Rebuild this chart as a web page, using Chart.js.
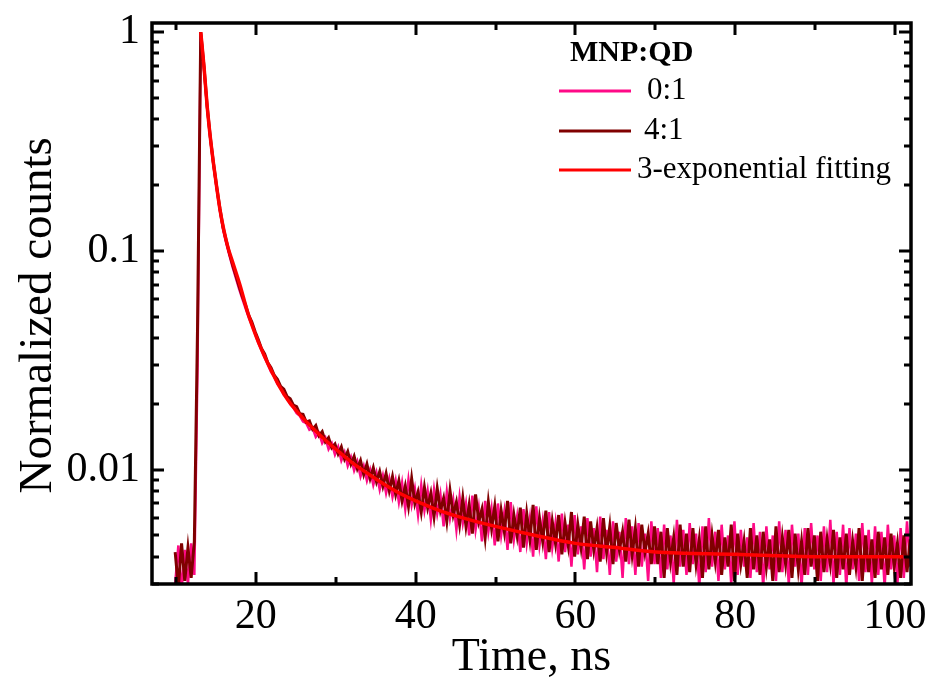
<!DOCTYPE html>
<html><head><meta charset="utf-8">
<script src="https://cdn.jsdelivr.net/npm/chart.js@4.4.1/dist/chart.umd.min.js"></script>
<style>html,body{margin:0;padding:0;background:#fff;}#wrap{width:934px;height:688px;}</style>
</head><body><div id="wrap"><canvas id="c" width="934" height="688"></canvas></div>
<script>
// TCSPC channel timing (ns)
const T_START = 9.9, T_STEP = 0.4;

// MNP:QD = 0:1 normalized counts, one value per channel
const counts01 = [
0.0030,0.0045,0.0028,0.0043,0.0030,0.0046,0.0033,0.030,1.0,0.69,
0.45,0.325,0.245,0.192,0.152,0.125,0.108,0.095,0.084,0.075,
0.067,0.0605,0.0548,0.0497,0.0458,0.0418,0.0380,0.0352,0.0325,0.0302,
0.0280,0.0266,0.0246,0.0236,0.0220,0.0212,0.0199,0.0192,0.0181,0.0176,
0.0166,0.0163,0.0152,0.0155,0.0141,0.0147,0.0132,0.0140,0.0124,0.0132,
0.0117,0.0127,0.0110,0.0120,0.0104,0.0114,0.0099,0.0109,0.0093,0.0104,
0.0089,0.0100,0.0085,0.0097,0.0081,0.0094,0.0078,0.0091,0.0075,0.0089,
0.0071,0.0087,0.0066,0.0090,0.0069,0.0082,0.0062,0.0085,0.0065,0.0080,
0.0059,0.0081,0.0063,0.0077,0.0055,0.0079,0.0060,0.0073,0.0053,0.0075,
0.0057,0.0070,0.0050,0.0076,0.0053,0.0067,0.0047,0.0072,0.0052,0.0066,
0.0045,0.0070,0.0050,0.0064,0.0043,0.0071,0.0048,0.0061,0.0042,0.0066,
0.0046,0.0060,0.0040,0.0068,0.0045,0.0058,0.0039,0.0064,0.0044,0.0057,
0.0038,0.0063,0.0042,0.0056,0.0036,0.0062,0.0041,0.0055,0.0035,0.0060,
0.0040,0.0054,0.0034,0.0061,0.0039,0.0053,0.0033,0.0058,0.0038,0.0052,
0.0032,0.0060,0.0037,0.0055,0.0033,0.0057,0.0036,0.0051,0.0031,0.0058,
0.0037,0.0054,0.0032,0.0056,0.0035,0.0050,0.0030,0.0059,0.0036,0.0053,
0.0033,0.0057,0.0037,0.0051,0.0029,0.0055,0.0034,0.0060,0.0036,0.0052,
0.0031,0.0056,0.0035,0.0050,0.0030,0.0058,0.0033,0.0053,0.0036,0.0049,
0.0032,0.0057,0.0034,0.0052,0.0029,0.0055,0.0035,0.0050,0.0031,0.0058,
0.0034,0.0053,0.0030,0.0056,0.0036,0.0051,0.0029,0.0054,0.0033,0.0057,
0.0035,0.0050,0.0031,0.0055,0.0034,0.0059,0.0030,0.0052,0.0033,0.0056,
0.0029,0.0054,0.0035,0.0051,0.0031,0.0057,0.0034,0.0053,0.0030,0.0055,
0.0033,0.0052,0.0029,0.0056,0.0035,0.0050,0.0030,0.0054,0.0032,0.0058,
0.0036];

// MNP:QD = 4:1 normalized counts
const counts41 = [
0.0042,0.0029,0.0046,0.0031,0.0044,0.0032,0.0047,0.045,1.0,0.70,
0.46,0.33,0.25,0.196,0.156,0.128,0.111,0.097,0.086,0.077,
0.069,0.062,0.0565,0.0508,0.0472,0.0428,0.0393,0.0358,0.0338,0.0308,
0.0292,0.0270,0.0259,0.0240,0.0233,0.0216,0.0211,0.0197,0.0194,0.0180,
0.0179,0.0165,0.0167,0.0153,0.0159,0.0143,0.0149,0.0134,0.0140,0.0126,
0.0131,0.0118,0.0127,0.0112,0.0121,0.0106,0.0115,0.0101,0.0110,0.0095,
0.0106,0.0091,0.0102,0.0088,0.0098,0.0084,0.0096,0.0080,0.0093,0.0077,
0.0089,0.0072,0.0084,0.0068,0.0091,0.0070,0.0079,0.0064,0.0083,0.0067,
0.0078,0.0061,0.0082,0.0065,0.0074,0.0058,0.0080,0.0062,0.0071,0.0056,
0.0074,0.0055,0.0069,0.0051,0.0077,0.0058,0.0066,0.0049,0.0071,0.0054,
0.0068,0.0047,0.0065,0.0052,0.0072,0.0046,0.0062,0.0050,0.0067,0.0044,
0.0063,0.0048,0.0069,0.0043,0.0060,0.0047,0.0065,0.0042,0.0058,0.0046,
0.0062,0.0041,0.0057,0.0045,0.0064,0.0040,0.0056,0.0044,0.0061,0.0039,
0.0058,0.0043,0.0054,0.0038,0.0060,0.0042,0.0055,0.0037,0.0057,0.0043,
0.0052,0.0038,0.0059,0.0041,0.0054,0.0036,0.0056,0.0042,0.0051,0.0037,
0.0055,0.0037,0.0052,0.0032,0.0054,0.0038,0.0049,0.0033,0.0056,0.0036,
0.0051,0.0034,0.0054,0.0037,0.0048,0.0032,0.0055,0.0035,0.0050,0.0038,
0.0053,0.0033,0.0049,0.0036,0.0056,0.0031,0.0051,0.0037,0.0047,0.0032,
0.0054,0.0035,0.0050,0.0033,0.0052,0.0036,0.0048,0.0031,0.0055,0.0034,
0.0049,0.0037,0.0053,0.0032,0.0051,0.0035,0.0047,0.0033,0.0054,0.0036,
0.0050,0.0031,0.0052,0.0034,0.0048,0.0037,0.0053,0.0032,0.0049,0.0035,
0.0051,0.0033,0.0047,0.0036,0.0054,0.0031,0.0050,0.0034,0.0048,0.0032,
0.0052,0.0035,0.0049,0.0033,0.0051,0.0036,0.0046,0.0032,0.0050,0.0034,
0.0048];

// 3-exponential fit curve
const fitTimes  = [13.1,13.5,13.9,14.3,14.7,15.1,15.5,16,16.5,17,18,19,20,21,22,23,24,26,28,30,32,34,36,38,40,43,46,50,55,60,65,70,80,90,101];
const fitValues = [1.0,0.70,0.46,0.33,0.25,0.195,0.155,0.124,0.104,0.091,0.070,0.052,0.041,0.0335,0.0280,0.0238,0.0208,0.0170,0.0144,0.0124,0.0108,0.0096,0.0086,0.0078,0.0072,0.0065,0.0060,0.0055,0.0050,0.0046,0.0044,0.0042,0.0041,0.0040,0.0040];

const seriesLabels = ['0:1', '4:1', '3-exponential fitting'];
const legendTitle = 'MNP:QD';

const xMajorTicks = [20, 40, 60, 80, 100];
const xMinorTicks = [10, 30, 50, 70, 90];
const yMajorTicks = [1, 0.1, 0.01];
const yTickLabels = ['1', '0.1', '0.01'];
const yMinorTicks = [0.9,0.8,0.7,0.6,0.5,0.4,0.3,0.2,0.09,0.08,0.07,0.06,0.05,0.04,0.03,0.02,0.009,0.008,0.007,0.006,0.005,0.004,0.003];

const channelTimes = counts01.map((_, i) => +(T_START + i * T_STEP).toFixed(2));
const toPts = (xs, ys) => ys.map((y, i) => ({x: xs[i], y}));

const SERIF = "'Liberation Serif', 'Times New Roman', serif";

const framePlugin = {
  id: 'frame',
  afterDatasetsDraw(chart) {
    const {ctx, chartArea: a, scales: {x, y}} = chart;
    ctx.save();
    ctx.strokeStyle = '#000';
    ctx.lineWidth = 3;
    ctx.lineCap = 'butt';
    const MAJ = 12, MIN = 7;
    ctx.beginPath();
    const xt = (v, len) => {
      const px = Math.round(x.getPixelForValue(v));
      ctx.moveTo(px, a.bottom); ctx.lineTo(px, a.bottom - len);
      ctx.moveTo(px, a.top); ctx.lineTo(px, a.top + len);
    };
    const yt = (v, len) => {
      const py = Math.round(y.getPixelForValue(v));
      ctx.moveTo(a.left, py); ctx.lineTo(a.left + len, py);
      ctx.moveTo(a.right, py); ctx.lineTo(a.right - len, py);
    };
    xMajorTicks.forEach(v => xt(v, MAJ));
    xMinorTicks.forEach(v => xt(v, MIN));
    yMajorTicks.forEach(v => yt(v, MAJ));
    yMinorTicks.forEach(v => yt(v, MIN));
    ctx.stroke();
    ctx.lineWidth = 3.5;
    ctx.strokeRect(a.left, a.top, a.right - a.left, a.bottom - a.top);
    ctx.restore();
  },
  afterDraw(chart) {
    const {ctx} = chart;
    ctx.save();
    ctx.fillStyle = '#000';
    ctx.textBaseline = 'middle';
    ctx.textAlign = 'left';
    ctx.font = "bold 30px " + SERIF;
    ctx.fillText(legendTitle, 570, 53);
    const rows = [{y: 91, tx: 647}, {y: 131, tx: 644}, {y: 170, tx: 637}];
    ctx.font = "31px " + SERIF;
    chart.data.datasets.forEach((ds, i) => {
      const r = rows[i];
      ctx.strokeStyle = ds.borderColor;
      ctx.lineWidth = 3;
      ctx.beginPath();
      ctx.moveTo(559, r.y); ctx.lineTo(631, r.y);
      ctx.stroke();
      ctx.fillStyle = '#000';
      ctx.fillText(ds.label, r.tx, r.y);
    });
    ctx.restore();
  }
};

new Chart(document.getElementById('c'), {
  type: 'line',
  data: {
    datasets: [
      {label: seriesLabels[0], data: toPts(channelTimes, counts01), borderColor: '#FF0A87', borderWidth: 2.5, pointRadius: 0, order: 2, tension: 0},
      {label: seriesLabels[1], data: toPts(channelTimes, counts41), borderColor: '#800000', borderWidth: 3, pointRadius: 0, order: 1, tension: 0},
      {label: seriesLabels[2], data: toPts(fitTimes, fitValues), borderColor: '#FF0000', borderWidth: 3.5, pointRadius: 0, order: 0, cubicInterpolationMode: 'monotone'}
    ]
  },
  options: {
    responsive: false,
    animation: false,
    devicePixelRatio: 1,
    layout: {padding: {top: 23, right: 23, left: 0, bottom: 0}},
    plugins: {legend: {display: false}, tooltip: {enabled: false}},
    scales: {
      x: {
        type: 'linear', min: 7, max: 102,
        grid: {display: false, drawTicks: false},
        border: {display: false},
        afterBuildTicks: s => { s.ticks = xMajorTicks.map(v => ({value: v})); },
        afterFit: s => { s.height = 104; s.paddingLeft = 0; s.paddingRight = 0; },
        ticks: {color: '#000', font: {family: SERIF, size: 42}, padding: 8, maxRotation: 0},
        title: {display: true, text: 'Time, ns', color: '#000', font: {family: SERIF, size: 46}, padding: {top: 0, bottom: 2}}
      },
      y: {
        type: 'logarithmic', min: 0.003, max: 1.1,
        grid: {display: false, drawTicks: false},
        border: {display: false},
        afterBuildTicks: s => { s.ticks = yMajorTicks.map(v => ({value: v})); },
        afterFit: s => { s.width = 152; s.paddingTop = 0; s.paddingBottom = 0; },
        ticks: {color: '#000', font: {family: SERIF, size: 42}, padding: 12,
          callback: (v) => { const k = yMajorTicks.indexOf(v); return k >= 0 ? yTickLabels[k] : ''; }},
        title: {display: true, text: 'Normalized counts  ', color: '#000', font: {family: SERIF, size: 47}, padding: {top: 10, bottom: 0}}
      }
    }
  },
  plugins: [framePlugin]
});
</script>
</body></html>
